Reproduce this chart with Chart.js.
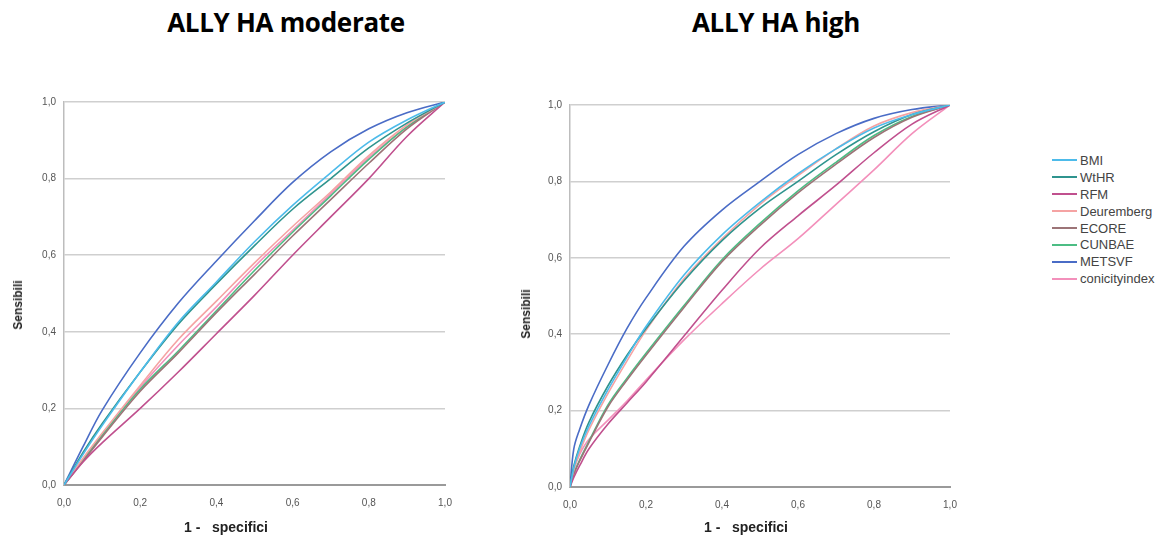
<!DOCTYPE html>
<html>
<head>
<meta charset="utf-8">
<script src="https://cdn.jsdelivr.net/npm/chart.js@4"></script>
<style>
  body { margin: 0; background: #fff; width: 1159px; height: 537px; position: relative; overflow: hidden; font-family: "Liberation Sans", Arial, sans-serif; }
  canvas { position: absolute; }
  .title { position: absolute; top: 4px; font: 700 26px "Open Sans", sans-serif; color: #000; transform: translateX(-50%); white-space: nowrap; letter-spacing: -0.3px; }
  .xtitle { position: absolute; top: 519px; font: 700 14px "Liberation Sans", Arial, sans-serif; color: #222; transform: translateX(-50%); white-space: pre; }
  .ytitle { position: absolute; font: 700 12px "Liberation Sans", Arial, sans-serif; color: #222; transform: translate(-50%, -50%) rotate(-90deg); white-space: nowrap; }
  #legend { position: absolute; left: 1052px; top: 152px; }
  .item { height: 16.9px; display: flex; align-items: center; font-size: 13px; color: #444; white-space: nowrap; }
  .swatch { width: 25px; height: 2px; margin-right: 3px; }
</style>
</head>
<body>
<div class="title" style="left:286px">ALLY HA moderate</div>
<div class="title" style="left:776px">ALLY HA high</div>
<canvas id="moderate-chart" width="470" height="537" style="left:0;top:0"></canvas>
<canvas id="high-chart" width="460" height="537" style="left:510px;top:0"></canvas>
<div class="ytitle" style="left:18px;top:305px">Sensibili</div>
<div class="ytitle" style="left:526px;top:314px">Sensibili</div>
<div class="xtitle" style="left:226px">1 -   specifici</div>
<div class="xtitle" style="left:746px">1 -   specifici</div>
<div id="legend"></div>
<script>
const SERIES = ["BMI", "WtHR", "RFM", "Deuremberg", "ECORE", "CUNBAE", "METSVF", "conicityindex"];
const COLORS = ["#4dbbea", "#2f948e", "#c0508e", "#f5a3a3", "#9c7477", "#4cbd84", "#4a6cc6", "#f390bb"];

// ALLY HA moderate: 1 - specificity on x, sensitivity per series
const FPR_MODERATE = [0, 0.05, 0.1, 0.2, 0.3, 0.4, 0.5, 0.6, 0.7, 0.8, 0.9, 1];
const BMI_MODERATE = [0, 0.08, 0.155, 0.295, 0.425, 0.53, 0.635, 0.73, 0.815, 0.895, 0.953, 1];
const WTHR_MODERATE = [0, 0.085, 0.16, 0.295, 0.42, 0.525, 0.625, 0.72, 0.80, 0.88, 0.945, 1];
const RFM_MODERATE = [0, 0.06, 0.11, 0.2, 0.295, 0.395, 0.495, 0.6, 0.70, 0.80, 0.91, 1];
const DEUREMBERG_MODERATE = [0, 0.07, 0.135, 0.26, 0.38, 0.48, 0.58, 0.675, 0.765, 0.86, 0.94, 1];
const ECORE_MODERATE = [0, 0.062, 0.125, 0.245, 0.345, 0.45, 0.55, 0.65, 0.745, 0.84, 0.93, 1];
const CUNBAE_MODERATE = [0, 0.065, 0.13, 0.25, 0.35, 0.455, 0.56, 0.66, 0.755, 0.85, 0.935, 1];
const METSVF_MODERATE = [0, 0.10, 0.195, 0.345, 0.475, 0.585, 0.69, 0.79, 0.87, 0.93, 0.972, 1];
const CONICITY_MODERATE = [0, 0.068, 0.13, 0.255, 0.365, 0.465, 0.57, 0.665, 0.76, 0.855, 0.935, 1];

// ALLY HA high
const FPR_HIGH = [0, 0.01, 0.025, 0.05, 0.1, 0.15, 0.2, 0.3, 0.4, 0.5, 0.6, 0.7, 0.8, 0.9, 1];
const BMI_HIGH = [0, 0.05, 0.10, 0.16, 0.255, 0.34, 0.42, 0.555, 0.66, 0.745, 0.82, 0.885, 0.94, 0.975, 1];
const WTHR_HIGH = [0, 0.055, 0.105, 0.17, 0.265, 0.345, 0.415, 0.54, 0.645, 0.73, 0.80, 0.87, 0.93, 0.975, 1];
const RFM_HIGH = [0, 0.025, 0.055, 0.10, 0.165, 0.22, 0.275, 0.395, 0.515, 0.625, 0.71, 0.79, 0.875, 0.95, 1];
const DEUREMBERG_HIGH = [0, 0.045, 0.09, 0.15, 0.245, 0.33, 0.41, 0.545, 0.65, 0.74, 0.815, 0.885, 0.945, 0.98, 1];
const ECORE_HIGH = [0, 0.033, 0.067, 0.117, 0.21, 0.28, 0.345, 0.47, 0.59, 0.685, 0.77, 0.845, 0.915, 0.968, 1];
const CUNBAE_HIGH = [0, 0.035, 0.07, 0.12, 0.215, 0.285, 0.35, 0.475, 0.595, 0.69, 0.775, 0.85, 0.92, 0.97, 1];
const METSVF_HIGH = [0, 0.10, 0.15, 0.215, 0.32, 0.415, 0.495, 0.63, 0.725, 0.80, 0.87, 0.925, 0.965, 0.988, 1];
const CONICITY_HIGH = [0, 0.045, 0.085, 0.125, 0.175, 0.225, 0.28, 0.385, 0.48, 0.57, 0.65, 0.74, 0.83, 0.925, 1];

const TICKS = [0, 0.2, 0.4, 0.6, 0.8, 1.0];

function toPoints(xs, ys) {
  return xs.map((x, i) => ({ x: x, y: ys[i] }));
}

function buildDatasets(xs, seriesValues) {
  return seriesValues.map((ys, i) => ({
    label: SERIES[i],
    data: toPoints(xs, ys),
    borderColor: COLORS[i],
    borderWidth: 1.6,
    pointRadius: 0,
    tension: 0.35
  }));
}

function commaTick(value) {
  return value.toFixed(1).replace(".", ",");
}

function buildChart(canvasId, datasets, yWidth, xHeight, padding) {
  new Chart(canvasId, {
    type: "line",
    data: { datasets: datasets },
    options: {
      responsive: false,
      animation: false,
      events: [],
      layout: { padding: padding },
      plugins: { legend: { display: false }, tooltip: { enabled: false } },
      scales: {
        x: {
          type: "linear",
          min: 0,
          max: 1,
          afterBuildTicks: scale => { scale.ticks = TICKS.map(v => ({ value: v })); },
          afterFit: scale => { scale.height = xHeight; },
          ticks: { callback: commaTick, font: { size: 10, family: "Liberation Sans" }, color: "#555", padding: 4, maxRotation: 0 },
          grid: { display: false },
          border: { display: true, color: "#9a9a9a", width: 2 }
        },
        y: {
          min: 0,
          max: 1,
          afterBuildTicks: scale => { scale.ticks = TICKS.map(v => ({ value: v })); },
          afterFit: scale => { scale.width = yWidth; },
          ticks: { callback: commaTick, font: { size: 10, family: "Liberation Sans" }, color: "#555", padding: 8 },
          grid: { color: "#cfcfcf", lineWidth: 1.5, drawTicks: false },
          border: { display: true, color: "#bdbdbd", width: 1.5 }
        }
      }
    }
  });
}

function buildLegend() {
  var legend = document.getElementById("legend");
  SERIES.forEach((name, i) => {
    var swatch = document.createElement("span");
    swatch.classList.add("swatch");
    swatch.style.background = COLORS[i];

    var item = document.createElement("div");
    item.classList.add("item");
    item.append(swatch, name);
    legend.append(item);
  });
}

buildChart("moderate-chart", buildDatasets(FPR_MODERATE, [
  BMI_MODERATE, WTHR_MODERATE, RFM_MODERATE, DEUREMBERG_MODERATE,
  ECORE_MODERATE, CUNBAE_MODERATE, METSVF_MODERATE, CONICITY_MODERATE
]), 64, 52, { top: 102, right: 25, left: 0, bottom: 0 });

buildChart("high-chart", buildDatasets(FPR_HIGH, [
  BMI_HIGH, WTHR_HIGH, RFM_HIGH, DEUREMBERG_HIGH,
  ECORE_HIGH, CUNBAE_HIGH, METSVF_HIGH, CONICITY_HIGH
]), 60, 50, { top: 105, right: 20, left: 0, bottom: 0 });

buildLegend();
</script>
</body>
</html>
